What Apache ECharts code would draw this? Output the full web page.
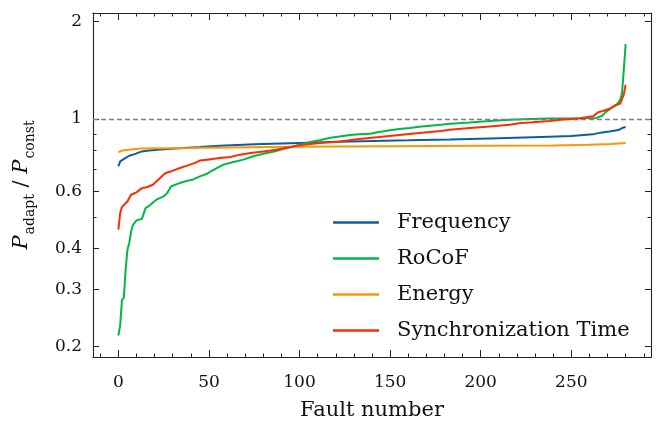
<!DOCTYPE html>
<html>
<head>
<meta charset="utf-8">
<script src="https://cdn.jsdelivr.net/npm/echarts@6/dist/echarts.min.js"></script>
<style>html,body{margin:0;padding:0;background:#fff}#c{width:657px;height:422px}</style>
</head>
<body>
<div id="c"></div>
<script>
// ---- data (x = fault index, y = P_adapt / P_const) ----
const freqX = [0,1,4,6,9,13,17,27,36,45,56,75,100,117,140,160,183,210,238,250,262,266,271,276,278,280];
const freqY = [0.715,0.741,0.759,0.771,0.780,0.795,0.800,0.809,0.814,0.820,0.828,0.836,0.844,0.850,0.856,0.860,0.865,0.873,0.882,0.886,0.897,0.908,0.915,0.925,0.938,0.945];

const rocofX = [0,1,2,3,4,5,6,7,8,10,13,15,17,21,25,27,29,34,38,41,45,49,51,58,63,69,74,80,86,91,97,100,106,111,117,122,128,133,139,143,150,155,161,166,172,178,183,194,205,216,227,238,255,264,267,269,272,275,277,278,279,280];
const rocofY = [0.216,0.232,0.278,0.282,0.344,0.396,0.416,0.450,0.472,0.488,0.493,0.532,0.541,0.565,0.578,0.592,0.620,0.636,0.646,0.651,0.666,0.679,0.690,0.724,0.736,0.750,0.767,0.782,0.795,0.809,0.824,0.834,0.850,0.860,0.876,0.884,0.893,0.897,0.901,0.910,0.923,0.932,0.938,0.947,0.954,0.960,0.967,0.976,0.986,0.995,1.000,1.004,1.005,1.008,1.023,1.050,1.080,1.105,1.145,1.200,1.420,1.700];

const energyX = [0,2,6,12,40,95,150,200,240,260,272,280];
const energyY = [0.790,0.800,0.805,0.812,0.814,0.822,0.825,0.828,0.829,0.833,0.838,0.844];

const syncX = [0,1,2,5,7,10,13,16,19,22,26,29,34,38,42,45,49,56,62,67,73,80,87,95,100,106,111,117,122,133,144,155,166,178,183,194,205,216,222,227,238,244,255,262,265,268,271,274,277,278,279,280];
const syncY = [0.457,0.514,0.537,0.558,0.585,0.595,0.613,0.618,0.628,0.651,0.682,0.690,0.707,0.719,0.732,0.745,0.750,0.759,0.764,0.777,0.786,0.795,0.805,0.820,0.830,0.838,0.844,0.848,0.853,0.868,0.880,0.893,0.906,0.918,0.927,0.938,0.949,0.960,0.972,0.976,0.986,0.995,1.005,1.020,1.050,1.060,1.075,1.100,1.115,1.125,1.190,1.275];

const seriesNames = ['Frequency','RoCoF','Energy','Synchronization Time'];
const xMajorTicks = [0,50,100,150,200,250];
const xMinorTicks = [-10,10,20,30,40,60,70,80,90,110,120,130,140,160,170,180,190,210,220,230,240,260,270,280,290];
const yLabelTicks = [0.2,0.3,0.4,0.6,1,2];
const yMinorTicks = [0.5,0.7,0.8,0.9];
const refLine = 1;

// ---- styling ----
const colors = ['#0C5DA5','#00B945','#FF9500','#FF2C00'];
const FONT = 'DejaVu Serif';
const X_MIN = -14, X_MAX = 294, Y_MIN = 0.1855, Y_MAX = 2.118;

function pairs(xs, ys){ return xs.map((x,i)=>[x, ys[i]]); }

const lineCol = '#222';
function xAx(pos, ticks, len, showLine, labels){
  return {
    type:'value', position:pos, min:X_MIN, max:X_MAX, gridIndex:0,
    axisLine:{show:showLine, onZero:false, lineStyle:{color:lineCol, width:1.1}},
    axisTick:{show:true, inside:true, length:len, customValues:ticks, lineStyle:{color:lineCol, width:1}},
    axisLabel:{show:!!labels, customValues:ticks, fontFamily:FONT, fontSize:17, color:'#111', margin:17},
    splitLine:{show:false}
  };
}
function yAx(pos, ticks, len, showLine, labels){
  return {
    type:'log', logBase:10, position:pos, min:Y_MIN, max:Y_MAX, gridIndex:0,
    axisLine:{show:showLine, onZero:false, lineStyle:{color:lineCol, width:1.1}},
    axisTick:{show:true, inside:true, length:len, customValues:ticks, lineStyle:{color:lineCol, width:1}},
    axisLabel:{show:!!labels, customValues:ticks, fontFamily:FONT, fontSize:17, color:'#111', margin:11,
      padding:[4,0,0,0],
      formatter:(v)=>String(+(+v).toPrecision(3))},
    splitLine:{show:false}
  };
}

const xAxes = [
  Object.assign(xAx('bottom', xMajorTicks, 7, true, true), {
    name:'Fault number', nameLocation:'middle', nameGap:43,
    nameTextStyle:{fontFamily:FONT, fontSize:21, color:'#111'}
  }),
  xAx('bottom', xMinorTicks, 3.5, false, false),
  xAx('top', xMajorTicks, 7, true, false),
  xAx('top', xMinorTicks, 3.5, false, false)
];
const yAxes = [
  Object.assign(yAx('left', yLabelTicks, 6, true, true), {
    name:'{i|P}{s|adapt}{n| / }{i|P}{s|const}', nameLocation:'middle', nameGap:57,
    nameTextStyle:{
      fontFamily:FONT, color:'#111',
      rich:{
        i:{fontFamily:FONT, fontStyle:'italic', fontSize:21, verticalAlign:'top', lineHeight:25, color:'#111'},
        s:{fontFamily:FONT, fontSize:14, verticalAlign:'top', lineHeight:16, padding:[12,0,0,1], color:'#111'},
        n:{fontFamily:FONT, fontSize:21, verticalAlign:'top', lineHeight:25, color:'#111'}
      }
    }
  }),
  yAx('left', yMinorTicks, 3.5, false, false),
  yAx('right', yLabelTicks, 6, true, false),
  yAx('right', yMinorTicks, 3.5, false, false)
];

const allX = [freqX, rocofX, energyX, syncX];
const allY = [freqY, rocofY, energyY, syncY];
const series = seriesNames.map((n,i)=>({
  name:n, type:'line', xAxisIndex:0, yAxisIndex:0,
  data:pairs(allX[i], allY[i]),
  showSymbol:false, symbol:'none', smooth:false,
  lineStyle:{color:colors[i], width:2}, itemStyle:{color:colors[i]},
  z:3+i, animation:false
}));
series[0].markLine = {
  silent:true, symbol:'none', animation:false,
  label:{show:false},
  lineStyle:{color:'#808080', type:[5,3], width:1.3},
  data:[{yAxis:refLine}]
};

const chart = echarts.init(document.getElementById('c'), null, {renderer:'canvas'});
chart.setOption({
  animation:false,
  backgroundColor:'#fff',
  grid:{left:93, right:6, top:13, bottom:65, outerBoundsMode:'none'},
  xAxis:xAxes,
  yAxis:yAxes,
  legend:{
    data:seriesNames, orient:'vertical', left:333, top:212, padding:0,
    icon:'rect', itemWidth:46, itemHeight:2.5, itemGap:15,
    textStyle:{fontFamily:FONT, fontSize:21, color:'#111', lineHeight:20, padding:[0,0,0,13]}
  },
  series:series
});
</script>
</body>
</html>
